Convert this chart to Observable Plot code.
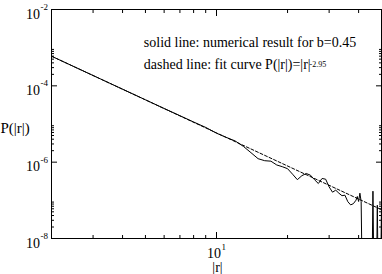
<!DOCTYPE html>
<html>
<head>
<meta charset="utf-8">
<script src="https://cdn.jsdelivr.net/npm/d3@7"></script>
<script src="https://cdn.jsdelivr.net/npm/@observablehq/plot@0.6"></script>
<style>
  html, body { margin: 0; padding: 0; background: white; }
</style>
</head>
<body>
<div id="chart"></div>
<script>
// numerical result (solid line); 1e-12 marks points where the result is zero
const rNum = [2,2.5,3,4,5,6,7,8,9,10,11,12,13,14,15,16,17,18,19,20,21,22,23,24,25,26,27,28,29,30,31,32,33,34,35,36,37,38,39,39.5,40,40.5,41,42,43,44,45,46,47,48,49,50];
const pNum = [5.98e-4,3.15e-4,1.866e-4,8.17e-5,4.31e-5,2.55e-5,1.651e-5,1.129e-5,8.15e-6,5.74e-6,
  4.46e-6,3.59e-6,2.59e-6,1.771e-6,1.234e-6,1.093e-6,1.061e-6,8.44e-7,7.61e-7,6.75e-7,
  4.84e-7,3.48e-7,4.42e-7,5.05e-7,4.56e-7,3.48e-7,2.76e-7,3.74e-7,3.58e-7,2.25e-7,
  1.635e-7,1.845e-7,1.539e-7,1.323e-7,1.364e-7,9.22e-8,7.60e-8,8.17e-8,1.009e-7,
  1.261e-7,9.33e-8,1.539e-7,9.33e-8,
  1e-12,1e-12,1e-12,1e-12,1.737e-7,1e-12,7.46e-8,1e-12,8.94e-8];
// fit curve (dashed line), straight in log-log
const rFit = [2, 50];
const pFit = [5.98e-4, 5.69e-8];

// ticks
const xMajor = [10];
const xMinor = [3,4,5,6,7,8,9,20,30,40];
const yMajor = [1e-2,1e-4,1e-6,1e-8];
const yMinor = [2e-4,3e-4,4e-4,5e-4,6e-4,7e-4,8e-4,9e-4,
                2e-6,3e-6,4e-6,5e-6,6e-6,7e-6,8e-6,9e-6,
                2e-8,3e-8,4e-8,5e-8,6e-8,7e-8,8e-8,9e-8];
const yLabelBase = ["10","10","10","10"];
const yLabelExp = ["-2","-4","-6","-8"];
const xLabelBase = ["10"];
const xLabelExp = ["1"];
const xTitle = "|r|";
const yTitle = "P(|r|)";
const note1 = "solid line: numerical result for b=0.45";
const note2 = "dashed line: fit curve P(|r|)=|r|";
const note2Exp = "-2.95";

const numData = rNum.map((r, i) => ({r, p: pNum[i]}));
const fitData = rFit.map((r, i) => ({r, p: pFit[i]}));
const yLab = yMajor.map((v, i) => ({v, base: yLabelBase[i], exp: yLabelExp[i]}));
const xLab = xMajor.map((v, i) => ({v, base: xLabelBase[i], exp: xLabelExp[i]}));

const font = "Liberation Serif, Times New Roman, serif";

const chart = Plot.plot({
  width: 382,
  height: 274,
  marginLeft: 51,
  marginRight: 1,
  marginTop: 9,
  marginBottom: 36,
  x: {type: "log", domain: [2, 50], axis: null},
  y: {type: "log", domain: [1e-8, 1e-2], axis: null},
  style: {fontFamily: font, fontSize: "14px", background: "white", color: "black"},
  marks: [
    Plot.line(fitData, {x: "r", y: "p", stroke: "black", strokeWidth: 1, strokeDasharray: "3,2", clip: true}),
    Plot.line(numData, {x: "r", y: "p", stroke: "black", strokeWidth: 1, clip: true}),
    Plot.frame({stroke: "black", strokeWidth: 1}),
    // inward ticks on all four sides
    Plot.axisX(xMajor, {anchor: "bottom", tickSize: -6, fill: "none", label: null}),
    Plot.axisX(xMinor, {anchor: "bottom", tickSize: -3, fill: "none", label: null}),
    Plot.axisX(xMajor, {anchor: "top", tickSize: -6, fill: "none", label: null}),
    Plot.axisX(xMinor, {anchor: "top", tickSize: -3, fill: "none", label: null}),
    Plot.axisY(yMajor, {anchor: "left", tickSize: -6, fill: "none", label: null}),
    Plot.axisY(yMinor, {anchor: "left", tickSize: -3, fill: "none", label: null}),
    Plot.axisY(yMajor, {anchor: "right", tickSize: -6, fill: "none", label: null}),
    Plot.axisY(yMinor, {anchor: "right", tickSize: -3, fill: "none", label: null}),
    // y tick labels 10^n
    Plot.text(yLab, {y: "v", frameAnchor: "left", text: "base", textAnchor: "end", lineAnchor: "bottom", dx: -11.5, dy: 9, fontSize: 14, fill: "black"}),
    Plot.text(yLab, {y: "v", frameAnchor: "left", text: "exp", textAnchor: "start", lineAnchor: "bottom", dx: -11, dy: 0.5, fontSize: 9, fill: "black"}),
    // x tick labels
    Plot.text(xLab, {x: "v", frameAnchor: "bottom", text: "base", textAnchor: "end", lineAnchor: "bottom", dx: 4.5, dy: 19.5, fontSize: 14, fill: "black"}),
    Plot.text(xLab, {x: "v", frameAnchor: "bottom", text: "exp", textAnchor: "start", lineAnchor: "bottom", dx: 5, dy: 11.5, fontSize: 9, fill: "black"}),
    // axis titles
    Plot.text([xTitle], {frameAnchor: "bottom", text: d => d, textAnchor: "middle", lineAnchor: "bottom", dx: 1, dy: 33, fontSize: 14, fill: "black"}),
    Plot.text([yTitle], {frameAnchor: "top-left", text: d => d, textAnchor: "start", lineAnchor: "bottom", dx: -51, dy: 123.5, fontSize: 15, fill: "black"}),
    // annotations
    Plot.text([note1], {frameAnchor: "top-left", text: d => d, textAnchor: "start", lineAnchor: "bottom", dx: 92.3, dy: 37.7, fontSize: 14, fill: "black"}),
    Plot.text([note2], {frameAnchor: "top-left", text: d => d, textAnchor: "start", lineAnchor: "bottom", dx: 92.3, dy: 59.3, fontSize: 14, fill: "black"}),
    Plot.text([note2Exp], {frameAnchor: "top-left", text: d => d, textAnchor: "start", lineAnchor: "bottom", dx: 258, dy: 57, fontSize: 8, fill: "black"})
  ]
});
document.getElementById("chart").appendChild(chart);
</script>
</body>
</html>
